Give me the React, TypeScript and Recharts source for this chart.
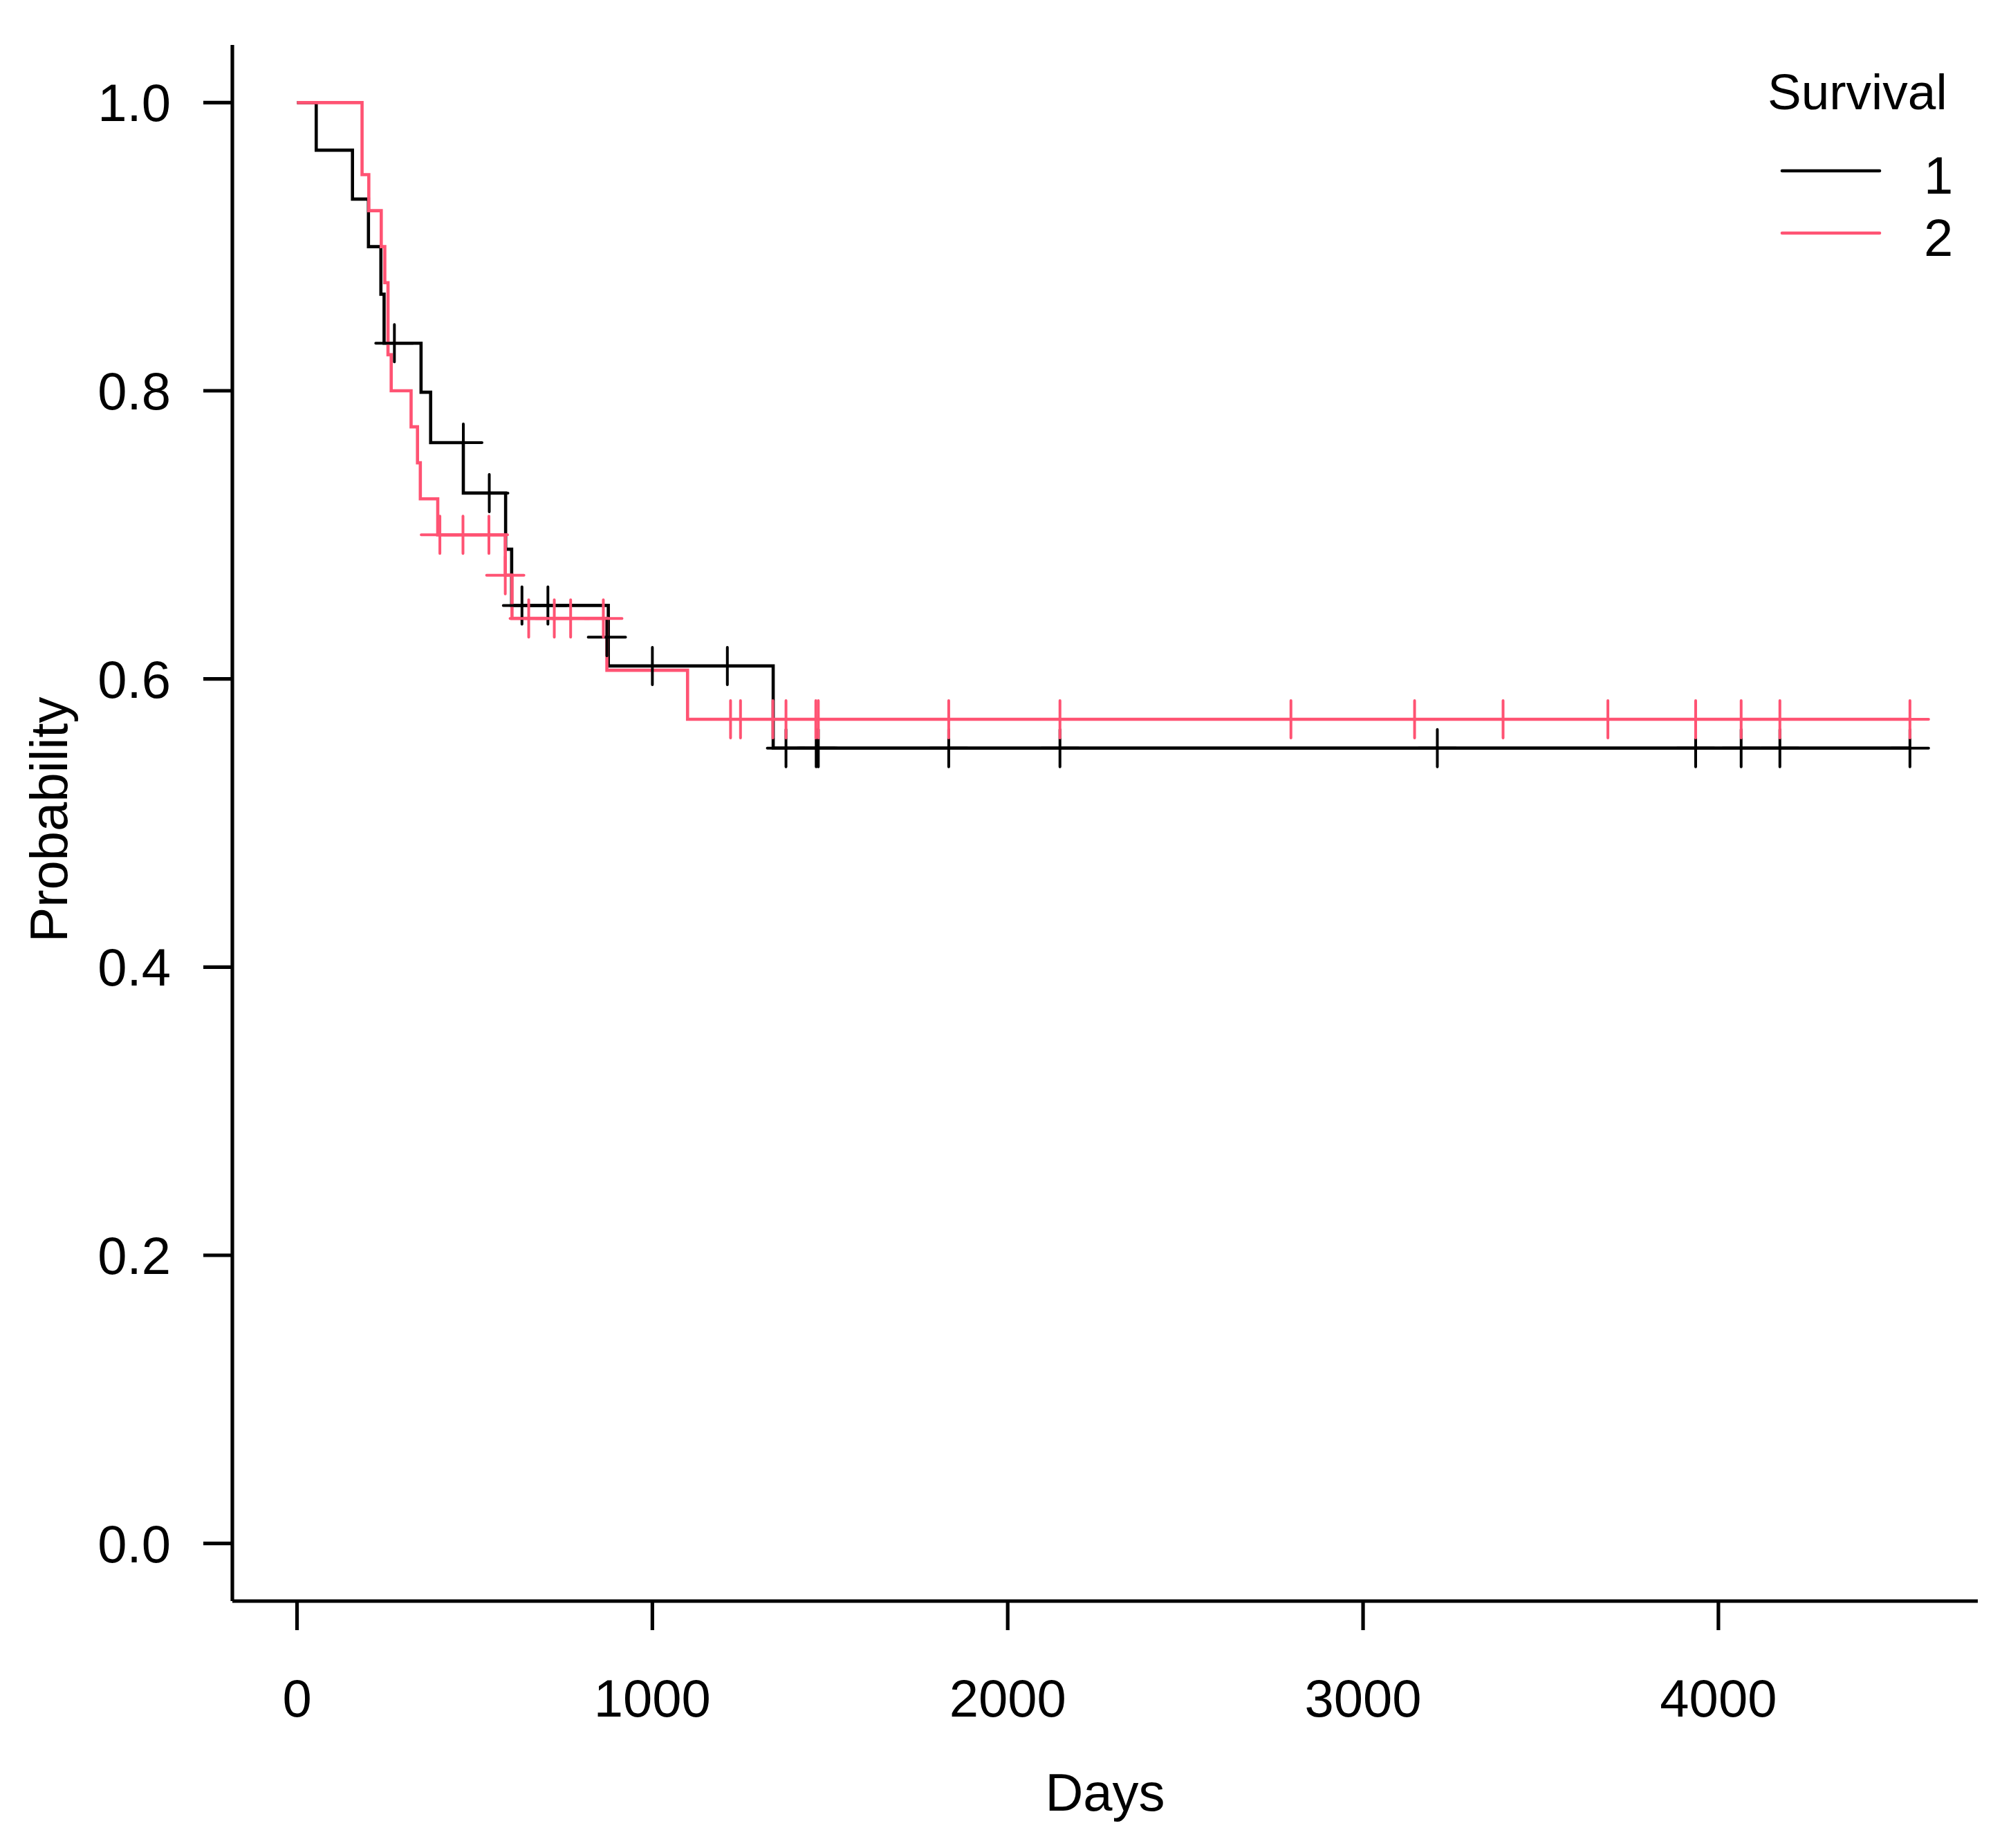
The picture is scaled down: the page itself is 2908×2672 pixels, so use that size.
import { ComposedChart, Line, Scatter, XAxis, YAxis, Customized } from "recharts";

// Kaplan-Meier steps (time in days, survival probability after the step)
const group1Steps = [
  { t: 0, s: 1 },
  { t: 54, s: 0.967 },
  { t: 156, s: 0.933 },
  { t: 201, s: 0.9 },
  { t: 236, s: 0.867 },
  { t: 245, s: 0.833 },
  { t: 349, s: 0.799 },
  { t: 376, s: 0.764 },
  { t: 468, s: 0.729 },
  { t: 587, s: 0.69 },
  { t: 604, s: 0.651 },
  { t: 876, s: 0.609 },
  { t: 1340, s: 0.552 },
  { t: 4539, s: 0.552 },
];

const group1Censored = [
  { t: 274, s: 0.833 },
  { t: 468, s: 0.764 },
  { t: 541, s: 0.729 },
  { t: 633, s: 0.651 },
  { t: 706, s: 0.651 },
  { t: 872, s: 0.629 },
  { t: 1000, s: 0.609 },
  { t: 1211, s: 0.609 },
  { t: 1376, s: 0.552 },
  { t: 1461, s: 0.552 },
  { t: 1467, s: 0.552 },
  { t: 1834, s: 0.552 },
  { t: 2147, s: 0.552 },
  { t: 3209, s: 0.552 },
  { t: 3936, s: 0.552 },
  { t: 4064, s: 0.552 },
  { t: 4173, s: 0.552 },
  { t: 4539, s: 0.552 },
];

const group2Steps = [
  { t: 0, s: 1 },
  { t: 183, s: 0.95 },
  { t: 202, s: 0.925 },
  { t: 237, s: 0.9 },
  { t: 247, s: 0.875 },
  { t: 256, s: 0.825 },
  { t: 265, s: 0.8 },
  { t: 321, s: 0.775 },
  { t: 339, s: 0.75 },
  { t: 347, s: 0.725 },
  { t: 396, s: 0.7 },
  { t: 586, s: 0.672 },
  { t: 605, s: 0.642 },
  { t: 872, s: 0.606 },
  { t: 1099, s: 0.572 },
  { t: 4539, s: 0.572 },
];

const group2Censored = [
  { t: 402, s: 0.7 },
  { t: 467, s: 0.7 },
  { t: 540, s: 0.7 },
  { t: 586, s: 0.672 },
  { t: 652, s: 0.642 },
  { t: 724, s: 0.642 },
  { t: 770, s: 0.642 },
  { t: 862, s: 0.642 },
  { t: 1220, s: 0.572 },
  { t: 1248, s: 0.572 },
  { t: 1339, s: 0.572 },
  { t: 1376, s: 0.572 },
  { t: 1460, s: 0.572 },
  { t: 1467, s: 0.572 },
  { t: 1834, s: 0.572 },
  { t: 2147, s: 0.572 },
  { t: 2797, s: 0.572 },
  { t: 3145, s: 0.572 },
  { t: 3394, s: 0.572 },
  { t: 3689, s: 0.572 },
  { t: 3936, s: 0.572 },
  { t: 4064, s: 0.572 },
  { t: 4173, s: 0.572 },
  { t: 4539, s: 0.572 },
];

const xTicks = [0, 1000, 2000, 3000, 4000];
const yTicks = [0, 0.2, 0.4, 0.6, 0.8, 1.0];
const groupNames = ["1", "2"];

const W = 2908;
const H = 2672;
const LEFT = 336;
const RIGHT = 2860;
const TOP = 65;
const BOTTOM = 2315;
const FONT = '"Liberation Sans", Arial, Helvetica, sans-serif';
const FS = 76;
const BLACK = "#000000";
const PINK = "#FF5373";
const LW = 4.6;
const AXW = 5.2;

function plusShape(color: string) {
  return (p: any) => {
    const { cx, cy } = p;
    const r = 27;
    return (
      <path
        d={`M${cx - r},${cy}H${cx + r}M${cx},${cy - r}V${cy + r}`}
        stroke={color}
        strokeWidth={4}
        strokeLinecap="round"
        fill="none"
      />
    );
  };
}

function XTick(p: any) {
  return (
    <text x={p.x} y={BOTTOM + 167} textAnchor="middle" fontFamily={FONT} fontSize={FS} fill={BLACK}>
      {p.payload.value}
    </text>
  );
}

function YTick(p: any) {
  return (
    <text x={247} y={p.y} dy={27} textAnchor="end" fontFamily={FONT} fontSize={FS} fill={BLACK}>
      {Number(p.payload.value).toFixed(1)}
    </text>
  );
}

function Annotations() {
  return (
    <g fontFamily={FONT} fontSize={FS} fill={BLACK}>
      <text x={(LEFT + RIGHT) / 2} y={2618} textAnchor="middle">
        Days
      </text>
      <text transform={`translate(97, ${(TOP + BOTTOM) / 2 - 5}) rotate(-90)`} textAnchor="middle">
        Probability
      </text>
      <text x={2556} y={158} fontSize={73}>
        Survival
      </text>
      <line x1={2577} x2={2718} y1={247} y2={247} stroke={BLACK} strokeWidth={LW} strokeLinecap="round" />
      <text x={2782} y={280}>{groupNames[0]}</text>
      <line x1={2577} x2={2718} y1={337} y2={337} stroke={PINK} strokeWidth={LW} strokeLinecap="round" />
      <text x={2782} y={370}>{groupNames[1]}</text>
    </g>
  );
}

export default function App() {
  return (
    <div style={{ position: "absolute", left: 0, top: 0, width: W, height: H, background: "#fff" }}>
      <ComposedChart width={W} height={H} margin={{ top: TOP, right: W - RIGHT, bottom: 0, left: 0 }}>
        <XAxis
          type="number"
          dataKey="t"
          domain={[-182, 4730]}
          ticks={xTicks}
          allowDataOverflow
          height={H - BOTTOM}
          tickSize={42}
          tickMargin={0}
          axisLine={{ stroke: BLACK, strokeWidth: AXW }}
          tickLine={{ stroke: BLACK, strokeWidth: AXW }}
          tick={<XTick />}
          interval={0}
        />
        <YAxis
          type="number"
          domain={[-0.04, 1.04]}
          ticks={yTicks}
          allowDataOverflow
          width={LEFT}
          tickSize={42}
          tickMargin={0}
          axisLine={{ stroke: BLACK, strokeWidth: AXW }}
          tickLine={{ stroke: BLACK, strokeWidth: AXW }}
          tick={<YTick />}
          interval={0}
        />
        <Line
          data={group1Steps}
          dataKey="s"
          type="stepAfter"
          stroke={BLACK}
          strokeWidth={LW}
          dot={false}
          activeDot={false}
          isAnimationActive={false}
        />
        <Scatter data={group1Censored} dataKey="s" shape={plusShape(BLACK)} isAnimationActive={false} />
        <Line
          data={group2Steps}
          dataKey="s"
          type="stepAfter"
          stroke={PINK}
          strokeWidth={LW}
          dot={false}
          activeDot={false}
          isAnimationActive={false}
        />
        <Scatter data={group2Censored} dataKey="s" shape={plusShape(PINK)} isAnimationActive={false} />
        <Customized component={Annotations} />
      </ComposedChart>
    </div>
  );
}
